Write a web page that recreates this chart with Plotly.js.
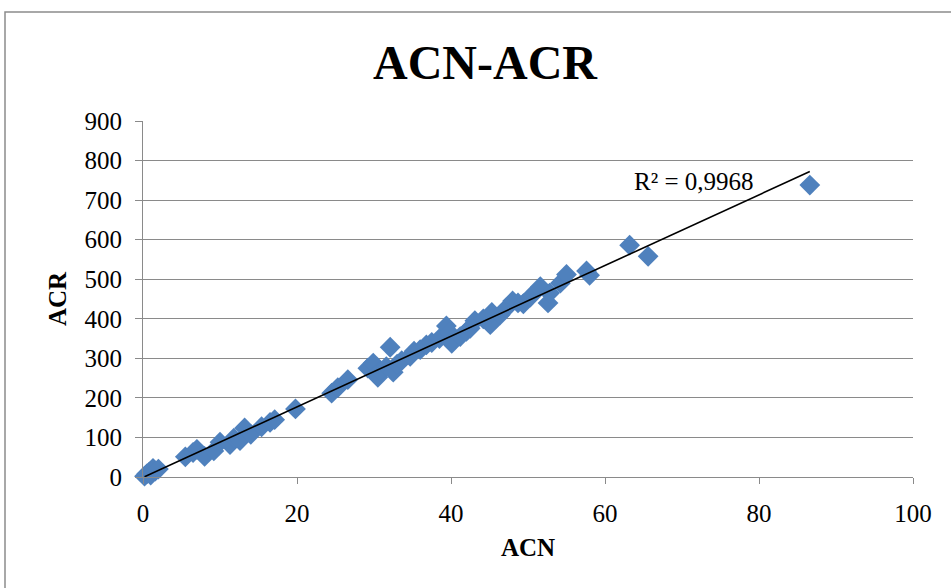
<!DOCTYPE html>
<html>
<head>
<meta charset="utf-8">
<script src="https://cdn.plot.ly/plotly-3.0.1.min.js"></script>
<style>html,body{margin:0;padding:0;background:#fff;}#chart{width:951px;height:588px;}</style>
</head>
<body>
<div id="chart"></div>
<script>
// Data
const acn = [0.2,0.5,0.8,1.0,1.3,1.6,2.0,
  5.5,6.5,7.0,8.0,9.2,10.0,11.3,11.8,12.6,13.2,14.0,15.4,16.5,17.1,
  19.8,
  24.5,25.3,26.6,
  29.2,29.9,30.5,30.8,31.6,32.1,32.5,33.0,33.6,34.7,35.2,36.0,36.8,37.5,38.5,39.4,39.8,40.1,41.2,42.0,42.5,43.1,44.2,45.1,45.3,46.4,47.2,48.0,48.7,49.4,50.3,51.6,52.6,52.8,54.2,55.0,57.6,58.0,
  63.2,65.6,86.6];
const acr = [2,8,12,5,22,15,20,
  51,62,70,52,66,88,82,98,92,124,108,127,138,145,
  172,
  212,226,246,
  275,288,252,268,279,328,265,285,294,305,318,322,334,340,350,382,365,338,355,368,376,395,400,385,416,410,427,445,440,438,455,481,440,465,490,512,521,510,
  586,558,738];
const chartTitle = "ACN-ACR";
const xTitle = "ACN";
const yTitle = "ACR";
const r2Label = "R² = 0,9968";

// Linear least-squares trendline computed from the data
const n = acn.length;
const mx = acn.reduce((a,b)=>a+b,0)/n;
const my = acr.reduce((a,b)=>a+b,0)/n;
let sxy = 0, sxx = 0;
for (let i=0;i<n;i++){ sxy += (acn[i]-mx)*(acr[i]-my); sxx += (acn[i]-mx)**2; }
const slope = sxy/sxx, intercept = my - slope*mx;
const xmin = Math.min(...acn), xmax = Math.max(...acn);
const trendX = [xmin, xmax];
const trendY = trendX.map(x => intercept + slope*x);

const font = "Liberation Serif, Times New Roman, serif";
const grid = "#8a8a8a";

const data = [
  {x: acn, y: acr, type: "scatter", mode: "markers", cliponaxis: false,
   marker: {symbol: "diamond", size: 16, color: "#4F81BD", line: {width: 0}},
   hoverinfo: "x+y", showlegend: false},
  {x: trendX, y: trendY, type: "scatter", mode: "lines", cliponaxis: false,
   line: {color: "#000000", width: 1.6}, showlegend: false}
];

const layout = {
  width: 951, height: 588,
  margin: {l: 143, r: 38, t: 121, b: 111},
  paper_bgcolor: "#ffffff", plot_bgcolor: "#ffffff",
  font: {family: font, color: "#000"},
  title: {text: "<b>" + chartTitle + "</b>", font: {family: font, size: 48, color: "#000"},
          x: (485-143)/770, xanchor: "center", y: 1 - 62/588, yanchor: "middle", xref: "paper"},
  xaxis: {range: [0, 100], dtick: 20, tick0: 0, showgrid: false, zeroline: false,
          showline: true, linecolor: grid, linewidth: 1,
          ticks: "outside", ticklen: 6, tickcolor: grid, tickwidth: 1,
          ticklabelstandoff: 8,
          tickfont: {family: font, size: 25, color: "#000"},
          title: {text: "<b>" + xTitle + "</b>", font: {family: font, size: 25, color: "#000"}, standoff: 12}},
  yaxis: {range: [0, 900], dtick: 100, tick0: 0, showgrid: true, gridcolor: grid, gridwidth: 1,
          zeroline: false, showline: true, linecolor: grid, linewidth: 1,
          ticks: "outside", ticklen: 7, tickcolor: grid, tickwidth: 1,
          ticklabelstandoff: 8,
          tickfont: {family: font, size: 25, color: "#000"},
          title: {text: "<b>" + yTitle + "</b>", font: {family: font, size: 25, color: "#000"}, standoff: 10}},
  annotations: [
    {text: r2Label, x: 71.6, y: 746, xref: "x", yref: "y", showarrow: false,
     xanchor: "center", yanchor: "middle", font: {family: font, size: 25, color: "#000"}}
  ],
  shapes: [
    {type: "rect", xref: "paper", yref: "paper",
     x0: (5-143)/770, x1: 1.2, y0: -0.5, y1: (477-12)/356,
     line: {color: "#8c8c8c", width: 1.5}, fillcolor: "rgba(0,0,0,0)", layer: "below"}
  ]
};

Plotly.newPlot("chart", data, layout, {displayModeBar: false, staticPlot: true});
</script>
</body>
</html>
